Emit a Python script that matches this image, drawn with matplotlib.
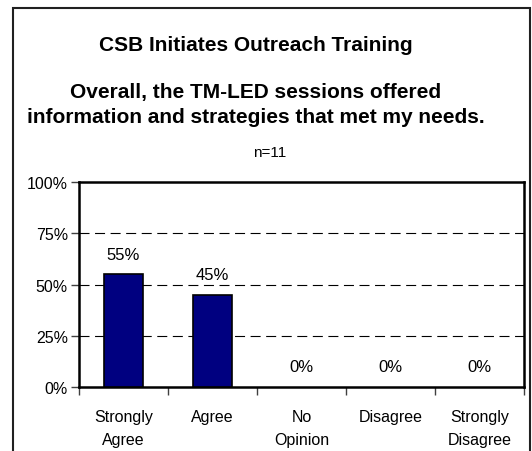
import matplotlib
matplotlib.use("Agg")
import matplotlib.pyplot as plt
from matplotlib.patches import Rectangle

categories = ["Strongly\nAgree", "Agree", "No\nOpinion", "Disagree", "Strongly\nDisagree"]
values = [55, 45, 0, 0, 0]
yticks = [0, 25, 50, 75, 100]
ytick_labels = ["0%", "25%", "50%", "75%", "100%"]
title = "CSB Initiates Outreach Training"
subtitle = "Overall, the TM-LED sessions offered\ninformation and strategies that met my needs."
note = "n=11"

plt.rcParams['font.family'] = ['Liberation Sans', 'DejaVu Sans']

W, H = 532, 452
fig = plt.figure(figsize=(W / 100, H / 100), dpi=100)
fig.patch.set_facecolor("white")

# outer frame
fig.patches.append(Rectangle((13 / W, -0.02), (530 - 13) / W, (H - 9 + 9) / H,
                             transform=fig.transFigure, fill=False,
                             edgecolor="#202020", linewidth=1.5))

ax = fig.add_axes([79 / W, (H - 388) / H, (524 - 79) / W, (388 - 183) / H])
x = list(range(len(categories)))
bars = ax.bar(x, values, width=0.43, color="#000080", edgecolor="black", linewidth=1.2, zorder=3)
for b, v in zip(bars, values):
    if v == 0:
        b.set_linewidth(0)
ax.set_xlim(-0.5, len(categories) - 0.5)
ax.set_ylim(0, 100)
ax.set_yticks(yticks)
ax.set_yticklabels(ytick_labels, fontsize=11.5)
ax.set_xticks(x)
ax.set_xticklabels(categories, fontsize=11.5, linespacing=1.65)
ax.tick_params(axis="x", length=0, pad=16)
ax.set_xticks([i - 0.5 for i in range(len(categories) + 1)], minor=True)
ax.tick_params(axis="x", which="minor", length=6, width=1, color="#404040", direction="out")
ax.tick_params(axis="y", length=6, width=1, color="#404040", direction="out", pad=2)
for y in yticks[1:-1]:
    ax.axhline(y, color="black", linestyle=(0, (9, 5)), linewidth=0.8, zorder=1)
for s in ax.spines.values():
    s.set_linewidth(1.8)
    s.set_color("black")

for i, v in enumerate(values):
    ax.annotate(f"{v}%", (i, v), xytext=(0, 9), textcoords="offset points",
                ha="center", va="bottom", fontsize=12)

fig.text(256 / W, 1 - 45.5 / H, title, ha="center", va="center", fontsize=15, fontweight="bold")
fig.text(256 / W, 1 - 105 / H, subtitle, ha="center", va="center", fontsize=15,
         fontweight="bold", linespacing=1.35)
fig.text(270 / W, 1 - 153 / H, note, ha="center", va="center", fontsize=11)

fig.savefig("out.png", dpi=100)
